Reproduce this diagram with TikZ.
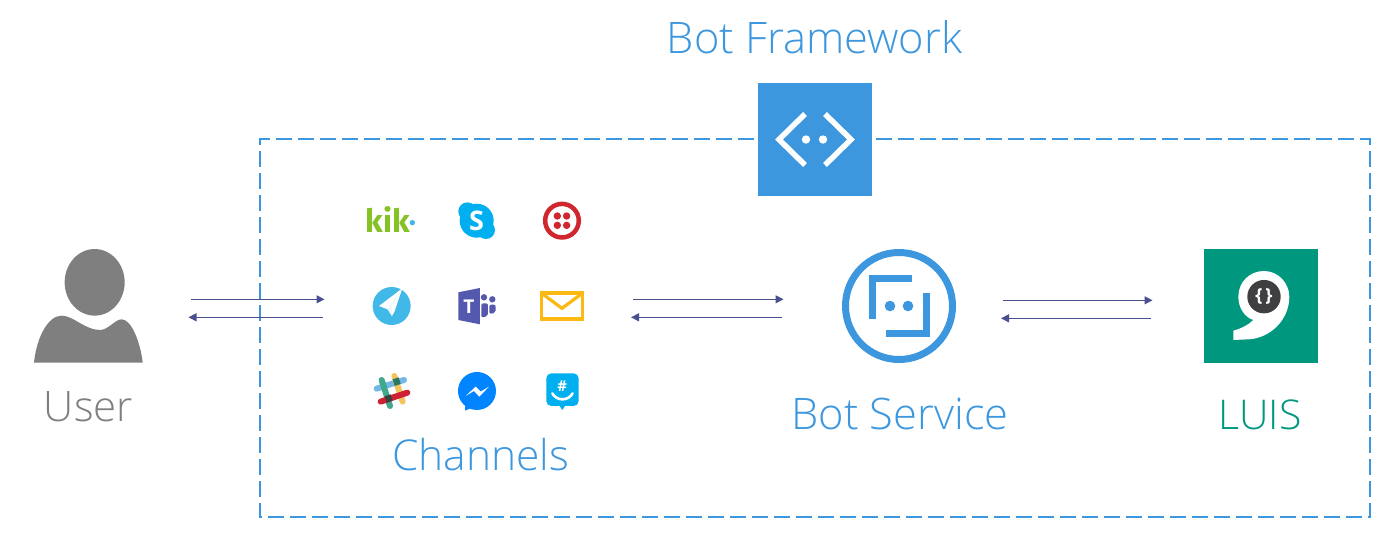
\documentclass[tikz,border=0pt]{standalone}
\usepackage{fontspec}
\setmainfont{Open Sans Light}
\newfontfamily\boldf{Open Sans}
\newfontfamily\kikf{Fira Sans}
\usetikzlibrary{arrows.meta}
\definecolor{azblue}{HTML}{3C97DF}
\definecolor{arrowc}{HTML}{4A4F90}
\definecolor{luisg}{HTML}{00977F}
\definecolor{usergrey}{HTML}{7F7F7F}
\definecolor{skypeb}{HTML}{00AFF0}
\definecolor{twred}{HTML}{CF272D}
\definecolor{teamsp}{HTML}{5558AF}
\definecolor{maily}{HTML}{FDB913}
\definecolor{kikg}{HTML}{86C226}
\definecolor{tgblue}{HTML}{40B9E8}
\definecolor{msgblue}{HTML}{0084FF}
\definecolor{slgreen}{HTML}{3FA98C}
\definecolor{slyellow}{HTML}{F2C45C}
\definecolor{slblue}{HTML}{74B7E6}
\definecolor{slred}{HTML}{CC2233}
\definecolor{darkc}{HTML}{3F3F41}
\tikzset{
  lbl/.style={font=\fontsize{#1}{46}\selectfont,inner sep=0pt,anchor=base},
  flow/.style={arrowc,line width=1.05pt,-{Triangle[length=8pt,width=8pt]}},
  dashbox/.style={azblue,line width=2pt,dash pattern=on 16pt off 6pt},
  zoomone/.style={shift={(350,190)},x=0.3333pt,y=-0.3333pt},
  zoomthree/.style={shift={(1190,240)},x=0.3333pt,y=-0.3333pt},
  zoomfour/.style={shift={(20,240)},x=0.3333pt,y=-0.3333pt},
  glyph/.style={inner sep=0pt,text=white},
}
\begin{document}
\begin{tikzpicture}[x=1pt,y=-1pt]
\useasboundingbox[fill=white] (0,0) rectangle (1400,539);
% dashed frame
\draw[dashbox] (876,139) -- (1370,139) -- (1370,517) -- (260,517) -- (260,139) -- (758,139);
% framework icon
\fill[azblue] (758,83) rectangle (872,196);
\begin{scope}[white,line width=5.5pt]
\draw (805,114) -- (779,139.5) -- (805,165);
\draw (825,114) -- (851,139.5) -- (825,165);
\fill (806,139.5) circle[radius=4.2pt];
\fill (823,139.5) circle[radius=4.2pt];
\end{scope}
% user
\begin{scope}[zoomfour]
\fill[usergrey] (224,127) ellipse[x radius=30pt,y radius=33.3pt];
\fill[usergrey] (42,368) .. controls (50,290) and (85,227) .. (125,227)
  .. controls (160,227) and (195,270) .. (240,270)
  .. controls (265,270) and (285,238) .. (305,238)
  .. controls (335,238) and (362,310) .. (368,368) -- cycle;
\end{scope}
% channels
\begin{scope}[zoomone]
% kik
\node[inner sep=0pt,text=kikg,font=\kikf\bfseries\fontsize{32}{32}\selectfont] (kik) at (114,90) {kik};
\fill[tgblue] (187,98) circle[radius=2.7pt];
% skype
\fill[skypeb] (380,92) circle[radius=17pt];
\fill[skypeb] (352,64) circle[radius=9pt];
\fill[skypeb] (408,120) circle[radius=9pt];
\node[glyph,font=\boldf\bfseries\fontsize{27}{27}\selectfont] (skype) at (380,92) {S};
% twilio
\draw[twred,line width=4.5pt] (636,92) circle[radius=16.8pt];
\foreach \px/\py in {622/78,650/78,622/106,650/106}
  \fill[twred] (\px,\py) circle[radius=3.7pt];
% telegram
\fill[tgblue] (125,348) circle[radius=19pt];
\fill[white] (157,295) -- (87,348) -- (113,358) -- (126,378) -- (133,366) -- cycle;
\fill[tgblue!12] (157,295) -- (113,358) -- (126,378) -- (124,350) -- cycle;
% teams
\fill[teamsp] (325,307) -- (390,294) -- (390,403) -- (325,390) -- cycle;
\node[glyph,font=\boldf\bfseries\fontsize{19}{19}\selectfont] (teams) at (357,349) {T};
\fill[teamsp] (402,322) circle[radius=3.2pt];
\fill[teamsp] (427,328) circle[radius=3.2pt];
\fill[teamsp,rounded corners=2pt] (394,340) -- (414,340) -- (414,378) -- (394,383) -- cycle;
\fill[teamsp,rounded corners=2pt] (418,344) -- (437,344) -- (437,368) -- (418,372) -- cycle;
% mail
\draw[maily,line width=3.2pt] (575,309) rectangle (697,387);
\draw[maily,line width=3.2pt] (578,312) -- (636,355) -- (694,312);
% slack
\begin{scope}[line cap=round,line width=6pt]
\draw[slblue] (80,596) -- (162,570);
\draw[slgreen] (95,570) -- (120,648);
\draw[slyellow] (133,558) -- (158,635);
\draw[slred] (92,635) -- (172,608);
\fill[darkc] (104,619) -- (122,613) -- (128,632) -- (110,638) -- cycle;
\fill[slgreen!70!black] (128,568) -- (146,562) -- (152,582) -- (134,588) -- cycle;
\end{scope}
% messenger
\fill[msgblue] (381,603) circle[radius=19pt];
\fill[msgblue] (347,630) -- (345,662) -- (378,648) -- cycle;
\fill[white] (348,617) -- (377,590) -- (392,605) -- (417,590) -- (388,620) -- (372,603) -- cycle;
% groupme
\fill[skypeb,rounded corners=5pt] (589,550) rectangle (686,648);
\fill[skypeb] (627,645) -- (637,660) -- (647,645) -- cycle;
\node[glyph,font=\boldf\bfseries\fontsize{15}{15}\selectfont] (gme) at (637,587) {\#};
\draw[white,line width=2.6pt,line cap=round] (607,610) .. controls (620,634) and (655,634) .. (668,610);
\end{scope}
% bot service
\draw[azblue,line width=7pt] (899,306) circle[radius=53.5pt];
\begin{scope}[azblue,line width=7pt]
\draw (912,278.5) -- (872,278.5) -- (872,319);
\draw (926,293) -- (926,333.5) -- (886,333.5);
\fill (890,306) circle[radius=5.3pt];
\fill (908,306) circle[radius=5.3pt];
\end{scope}
% LUIS
\fill[luisg] (1204,249) rectangle (1318,363);
\begin{scope}[zoomthree]
\fill[white] (145,170) .. controls (145,125) and (180,93) .. (222,93)
  .. controls (265,93) and (298,130) .. (298,170)
  .. controls (298,240) and (240,295) .. (175,298)
  -- (130,300) -- (130,272)
  .. controls (155,265) and (175,255) .. (190,240)
  .. controls (165,232) and (145,205) .. (145,170) -- cycle;
\fill[darkc] (222,170) circle[radius=16.7pt];
\node[glyph,font=\boldf\bfseries\fontsize{18}{18}\selectfont] (braces) at (222,168) {\{\,\}};
\end{scope}
% connectors
\coordinate (userR) at (191,299.3);
\coordinate (chanL) at (324.5,299.3);
\coordinate (chanLb) at (322.7,317.3);
\coordinate (userRb) at (188.5,317.3);
\coordinate (chanR) at (633,299.3);
\coordinate (botL) at (783.5,299.3);
\coordinate (botLb) at (781.5,317.3);
\coordinate (chanRb) at (631,317.3);
\coordinate (botR) at (1003,300.3);
\coordinate (luisL) at (1152.5,300.3);
\coordinate (luisLb) at (1150.5,318.3);
\coordinate (botRb) at (1001,318.3);
\draw[flow] (userR) -- (chanL);
\draw[flow] (chanLb) -- (userRb);
\draw[flow] (chanR) -- (botL);
\draw[flow] (botLb) -- (chanRb);
\draw[flow] (botR) -- (luisL);
\draw[flow] (luisLb) -- (botRb);
% labels
\node[lbl=43.4,text=azblue] (fw) at (814.5,53.8) {Bot Framework};
\node[lbl=42,text=usergrey] (user) at (88.5,421) {User};
\node[lbl=42.5,text=azblue] (chan) at (480.5,470.5) {Channels};
\node[lbl=43.4,text=azblue] (svc) at (900,429.5) {Bot Service};
\node[lbl=41,text=luisg] (luis) at (1260,429.5) {LUIS};
\end{tikzpicture}
\end{document}
